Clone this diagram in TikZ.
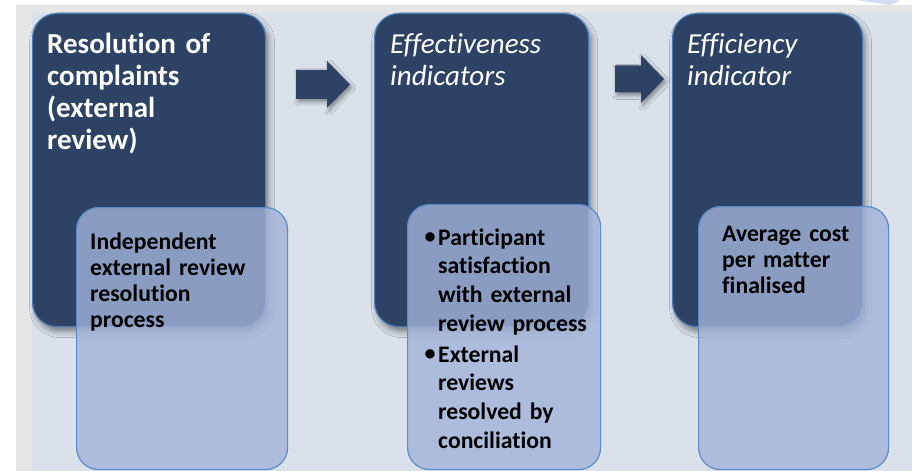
\documentclass[tikz,border=0pt]{standalone}
\usepackage{fontspec}
\setmainfont{Carlito}[Ligatures={NoCommon}]
\usetikzlibrary{shadows.blur}
\definecolor{navy}{HTML}{2D4264}
\definecolor{navyedge}{HTML}{4A7EBB}
\definecolor{tint}{RGB}{162,179,218}
\definecolor{tintedge}{HTML}{5B8CC8}
\definecolor{panel}{HTML}{DAE1EA}
\definecolor{frame}{HTML}{E6E6E6}
\definecolor{streak}{HTML}{D3DEEE}

\begin{document}
\begin{tikzpicture}[x=1pt,y=-1pt,
  darkbox/.style={draw=navyedge, line width=1.2pt, fill=navy,
    rounded corners=24pt, anchor=north west, inner sep=0pt,
    minimum height=313pt,
    blur shadow={shadow xshift=3pt, shadow yshift=-5pt,
      shadow blur radius=6pt, shadow opacity=45}},
  lightbox/.style={draw=tintedge, line width=1.2pt, fill=tint,
    fill opacity=0.8, draw opacity=1, rounded corners=22pt,
    anchor=north west, inner sep=0pt},
  blockarrow/.style={fill=navy,
    blur shadow={shadow xshift=2pt, shadow yshift=-3pt,
      shadow blur radius=4pt, shadow opacity=40}},
  heading/.style={anchor=base west, inner sep=0pt, text=white,
    text width=200pt, align=left,
    font=\fontsize{29}{31.7}\selectfont},
  body/.style={anchor=base west, inner sep=0pt, text=black,
    text width=180pt, align=left,
    font=\bfseries\fontsize{23.7}{26}\selectfont},
  loosebody/.style={body, font=\bfseries\fontsize{23.7}{28.7}\selectfont},
  bullet/.style={anchor=base west, inner sep=0pt, text=black,
    font=\bfseries\fontsize{22}{22}\selectfont}
]
\useasboundingbox (0,0) rectangle (912,473);

% page frame and panel
\fill[white] (0,0) rectangle (912,473);
\fill[frame] (16,5) rectangle (912,471);
\fill[panel] (32,13) rectangle (912,471);
\fill[streak] (857,0) -- (900,0) .. controls (896,3) .. (890,5)
  .. controls (876,3) .. cycle;

% dark heading panels
\node[darkbox, minimum width=233pt] (d1) at (32,13) {};
\node[darkbox, minimum width=214pt] (d2) at (374,13) {};
\node[darkbox, minimum width=190pt] (d3) at (672,13) {};

% block arrows between the panels
\fill[blockarrow] (296,70) -- (327,70) -- (327,61) -- (350,84.5)
  -- (327,108) -- (327,99) -- (296,99) -- cycle;
\fill[blockarrow] (615,65.5) -- (641,65.5) -- (641,55) -- (664,79)
  -- (641,103) -- (641,92.5) -- (615,92.5) -- cycle;

% headings
\node[heading, font=\bfseries\fontsize{29}{31.7}\selectfont] (h1) at (47,54)
  {Resolution of\\complaints\\(external\\review)};
\node[heading, font=\itshape\fontsize{29}{31.7}\selectfont] (h2) at (390,54)
  {Effectiveness\\indicators};
\node[heading, font=\itshape\fontsize{29}{31.7}\selectfont] (h3) at (687,54)
  {Efficiency\\indicator};

% translucent detail panels
\node[lightbox, minimum width=211pt, minimum height=262pt] (l1) at (76,207) {};
\node[lightbox, minimum width=193pt, minimum height=265pt] (l2) at (407,204) {};
\node[lightbox, minimum width=190pt, minimum height=263pt] (l3) at (698,206) {};

% detail texts
\node[body] (t1) at (90,249)
  {Independent\\external review\\resolution\\process};
\node[bullet] (dot1) at (424.5,243) {•};
\node[loosebody] (t2a) at (438,245)
  {Participant\\satisfaction\\with external\\review process};
\node[bullet] (dot2) at (424.5,360) {•};
\node[loosebody] (t2b) at (438,362)
  {External\\reviews\\resolved by\\conciliation};
\node[body] (t3) at (722,241)
  {Average cost\\per matter\\finalised};
\end{tikzpicture}
\end{document}
